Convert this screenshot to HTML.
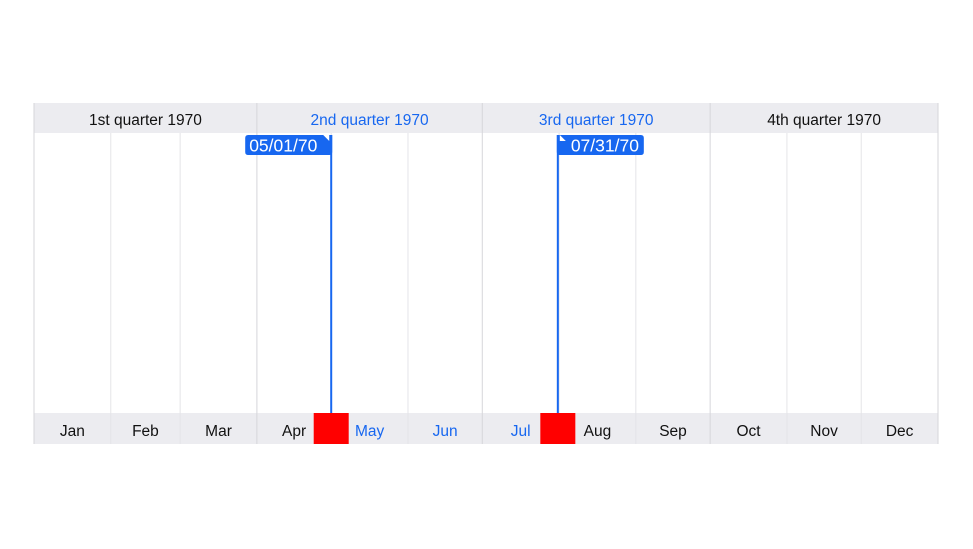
<!DOCTYPE html>
<html><head><meta charset="utf-8"><style>
html,body{margin:0;padding:0;background:#fff;width:973px;height:549px;overflow:hidden;font-family:"Liberation Sans",sans-serif}
</style></head><body>
<svg id="c" width="973" height="549"></svg>
<script>
const months=["Jan","Feb","Mar","Apr","May","Jun","Jul","Aug","Sep","Oct","Nov","Dec"];
const monthDays=[31,28,31,30,31,30,31,31,30,31,30,31];
const quarters=["1st quarter 1970","2nd quarter 1970","3rd quarter 1970","4th quarter 1970"];
const markerDays=[120,211.5];
const markerLabels=["05/01/70","07/31/70"];
const highlightMonths=[4,5,6];
const highlightQuarters=[1,2];
const X0=34,X1=938,TOP=103,HB=133,BT=413,BB=444,BLUE="#1767f0";
const xs=d=>X0+(X1-X0)*d/365;
const svg=document.getElementById('c');
const NS="http://www.w3.org/2000/svg";
function mk(t,a,p){const e=document.createElementNS(NS,t);for(const k in a)e.setAttribute(k,a[k]);(p||svg).appendChild(e);return e;}
let r=mk('rect',{x:X0,y:TOP,width:X1-X0,height:HB-TOP,fill:'#ececf0'});


r=mk('rect',{x:X0,y:BT,width:X1-X0,height:BB-BT,fill:'#ececf0'});


let cum=[0];monthDays.forEach(d=>cum.push(cum[cum.length-1]+d));
for(let i=0;i<=12;i++){
  const x=xs(cum[i]);const q=i%3===0;
  const l=mk('line',{x1:x,x2:x,y1:q?TOP:HB,y2:BB,stroke:q?'#d6d6da':'#e4e4e8','stroke-width':1});
  
  
}
for(let q=0;q<4;q++){
  const t=mk('text',{x:(xs(cum[q*3])+xs(cum[q*3+3]))/2,y:125,'text-anchor':'middle','font-size':15.5,fill:highlightQuarters.includes(q)?BLUE:'#111'});
  t.textContent=quarters[q];
  
  
}
markerDays.forEach((d,i)=>{
  const x=xs(d);
  const b=mk('rect',{x:x-17.5,y:BT,width:35,height:BB-BT,fill:'#ff0000'});
  
  
});
for(let m=0;m<12;m++){
  const t=mk('text',{x:(xs(cum[m])+xs(cum[m+1]))/2,y:436,'text-anchor':'middle','font-size':15.5,fill:highlightMonths.includes(m)?BLUE:'#111'});
  t.textContent=months[m];
  
  
}
markerDays.forEach((d,i)=>{
  const x=xs(d);
  const l=mk('line',{x1:x,x2:x,y1:135,y2:BT,stroke:BLUE,'stroke-width':2});
  
  
  const left=i===0,w=86;
  const bx=left?x-w:x;
  const p=left?`M${bx+3},135 H${x+1} V152 Q${x+1},155 ${x-2},155 H${bx+3} Q${bx},155 ${bx},152 V138 Q${bx},135 ${bx+3},135Z`
              :`M${x-1},135 H${bx+w-3} Q${bx+w},135 ${bx+w},138 V152 Q${bx+w},155 ${bx+w-3},155 H${x+2} Q${x-1},155 ${x-1},152Z`;
  const g=mk('path',{d:p,fill:BLUE});
  
  
  const tx=left?bx+4:x+13;
  const tri=left?`M${x-8},135 L${x-2},135 L${x-2},141Z`:`M${x+2},135 L${x+8},141 L${x+2},141Z`;
  const tr=mk('path',{d:tri,fill:'#fff'});
  
  
  const t=mk('text',{x:tx,y:151.5,'text-anchor':'start','font-size':17.5,fill:'#fff'});
  t.textContent=markerLabels[i];
  
  
});
</script>
</body></html>
